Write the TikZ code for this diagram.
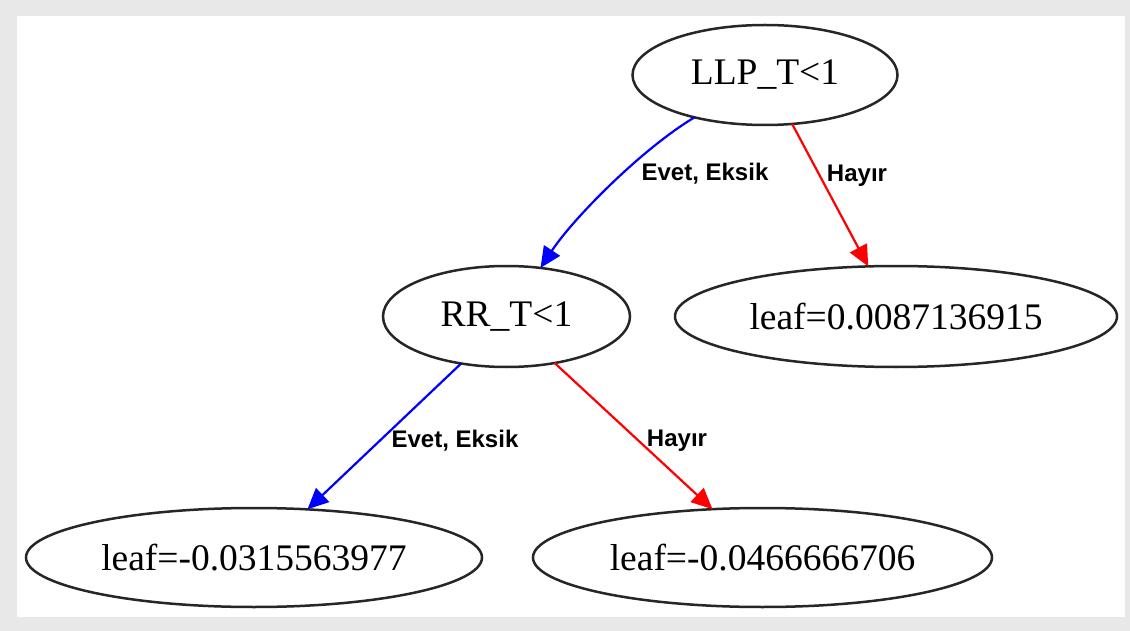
\documentclass[tikz,border=0pt]{standalone}
\usepackage{fontspec}
\setmainfont{Liberation Serif}
\newfontfamily\edgefont{Liberation Sans}
\usetikzlibrary{shapes.geometric,arrows.meta}
\definecolor{framegray}{RGB}{232,232,232}
\definecolor{yesblue}{RGB}{0,0,255}
\definecolor{nored}{RGB}{255,0,0}
\begin{document}
\begin{tikzpicture}[x=1pt,y=-1pt,
  tree/.style={ellipse, draw=black!85, line width=2.5pt, inner sep=0pt, outer sep=0pt,
    font=\fontsize{37.5}{40}\selectfont},
  edgelabel/.style={font=\edgefont\bfseries\fontsize{24}{26}\selectfont,
    inner sep=0pt, anchor=base},
  link/.style={line width=2.2pt, -{Triangle[length=21pt,width=19pt]}},
  ]
% frame and canvas
\fill[framegray] (0,0) rectangle (1130,631);
\fill[white] (17,16) rectangle (1125,617);
\useasboundingbox (0,0) rectangle (1130,631);

% split and leaf nodes
\node[tree, minimum width=265pt, minimum height=100pt] (llp) at (765,75) {LLP\_T<1};
\node[tree, minimum width=247pt, minimum height=101pt] (rr) at (506.5,316.5) {RR\_T<1};
\node[tree, minimum width=442pt, minimum height=101pt] (leafc) at (896,316.5) {leaf=0.0087136915};
\node[tree, minimum width=456pt, minimum height=99pt] (leafa) at (254,557.5) {leaf=-0.0315563977};
\node[tree, minimum width=459pt, minimum height=99pt] (leafb) at (762.5,557.5) {leaf=-0.0466666706};

% branches
\draw[link, yesblue] (llp.211.6) .. controls +(-52,31) and +(33,-50) .. (rr.55.9);
\draw[link, nored] (llp.299) -- (leafc.119.5);
\draw[link, yesblue] (rr.226.2) -- (leafa.42.5);
\draw[link, nored] (rr.316.2) -- (leafb.136.7);

% branch labels
\node[edgelabel] (l1) at (705,181) {Evet, Eksik};
\node[edgelabel] (l2) at (857,182) {Hayır};
\node[edgelabel] (l3) at (455,447) {Evet, Eksik};
\node[edgelabel] (l4) at (677,446) {Hayır};
\end{tikzpicture}
\end{document}
